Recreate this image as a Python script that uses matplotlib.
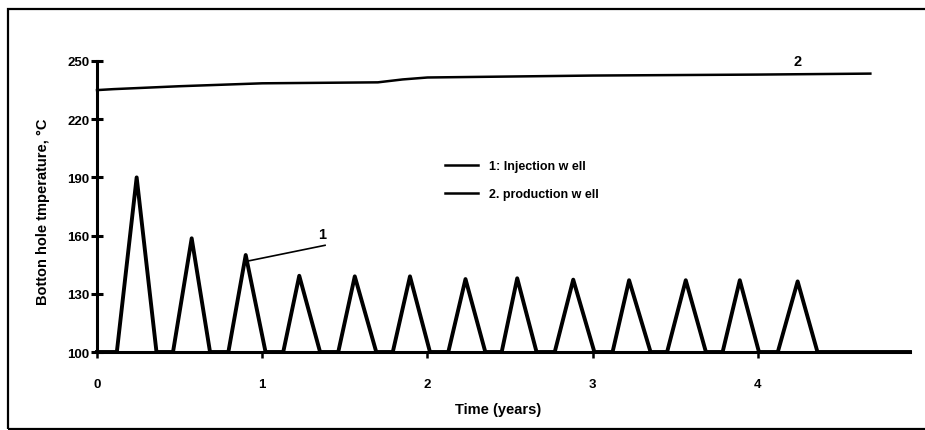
import matplotlib
matplotlib.use("Agg")
import matplotlib.pyplot as plt
from matplotlib.patches import Rectangle

plt.rcParams['font.family'] = ['Liberation Sans', 'DejaVu Sans']
plt.rcParams['font.weight'] = 'bold'

# Injection well (1): triangular pulses (start, peak time, peak value, end)
inj_start = [0.12, 0.46, 0.795, 1.127, 1.46, 1.79, 2.126, 2.449, 2.77, 3.12, 3.45, 3.786, 4.12]
inj_peak_t = [0.24, 0.573, 0.90, 1.224, 1.56, 1.894, 2.23, 2.543, 2.882, 3.22, 3.563, 3.89, 4.24]
inj_peak_v = [190, 158.6, 150, 139.3, 139, 139, 137.6, 138, 137.3, 137, 137, 137, 136.4]
inj_end = [0.36, 0.684, 1.02, 1.35, 1.69, 2.015, 2.35, 2.66, 3.01, 3.35, 3.685, 4.006, 4.36]
inj_base = 100
inj_tmax = 4.92

# Production well (2)
prod_t = [0.0, 0.1, 0.5, 1.0, 1.7, 1.85, 2.0, 3.0, 4.0, 4.68]
prod_v = [235, 235.5, 237, 238.5, 239, 240.5, 241.5, 242.5, 243, 243.5]

yticks = [100, 130, 160, 190, 220, 250]
xticks = [0, 1, 2, 3, 4]

# build injection series
inj_t = [0.0]
inj_v = [inj_base]
for s, pt, pv, e in zip(inj_start, inj_peak_t, inj_peak_v, inj_end):
    inj_t += [s, pt, e]
    inj_v += [inj_base, pv, inj_base]
inj_t.append(inj_tmax)
inj_v.append(inj_base)

fig = plt.figure(figsize=(9.25, 4.31), dpi=100)
ax = fig.add_axes([97/925, 1-353/431, (910-97)/925, (353-62)/431])

# outer frame
fig.patches.append(Rectangle((8/925, 1-430/431), 1.0, (430-10)/431,
                             transform=fig.transFigure, fill=False,
                             edgecolor='black', linewidth=1.6, clip_on=False))

l1, = ax.plot(inj_t, inj_v, color='black', lw=2.8, solid_joinstyle='round',
              label='1: Injection w ell', clip_on=False)
l2, = ax.plot(prod_t, prod_v, color='black', lw=1.8, label='2. production w ell',
              clip_on=False)

ax.set_xlim(0, inj_tmax)
ax.set_ylim(100, 250)
for s in ['top', 'right']:
    ax.spines[s].set_visible(False)
ax.spines['left'].set_linewidth(2.2)
ax.spines['bottom'].set_linewidth(2.2)

ax.set_yticks(yticks)
ax.set_xticks(xticks)
ax.tick_params(axis='y', direction='inout', length=9, width=2.2, labelsize=9.5, pad=1)
ax.tick_params(axis='x', direction='out', length=4, width=1.8, labelsize=9.5, pad=15)
for lab in ax.get_xticklabels() + ax.get_yticklabels():
    lab.set_fontweight('bold')

ax.set_xlabel('Time (years)', fontsize=10.5, fontweight='bold')
ax.xaxis.set_label_coords((498-97)/813, -(403-353)/291)
ax.set_ylabel('Botton hole tmperature, °C', fontsize=10.5, fontweight='bold')
ax.yaxis.set_label_coords(-(97-50)/813, (353-212)/291)

# labels
ax.plot([0.914, 1.38], [146.9, 155], color='black', lw=1.2)
ax.text(1.36, 157, '1', fontsize=10.5, fontweight='bold', ha='center', va='bottom')
ax.text(4.24, 246.5, '2', fontsize=10.5, fontweight='bold', ha='center', va='bottom')

leg = ax.legend(handles=[l1, l2], loc='upper left',
                bbox_to_anchor=((440-97)/813, (353-156)/291),
                frameon=False, fontsize=9, handlelength=2.6, handletextpad=0.9,
                labelspacing=1.3, borderaxespad=0)
for t in leg.get_texts():
    t.set_fontweight('bold')
for h in leg.get_lines():
    h.set_linewidth(1.8)

fig.savefig('out.png', dpi=100)
